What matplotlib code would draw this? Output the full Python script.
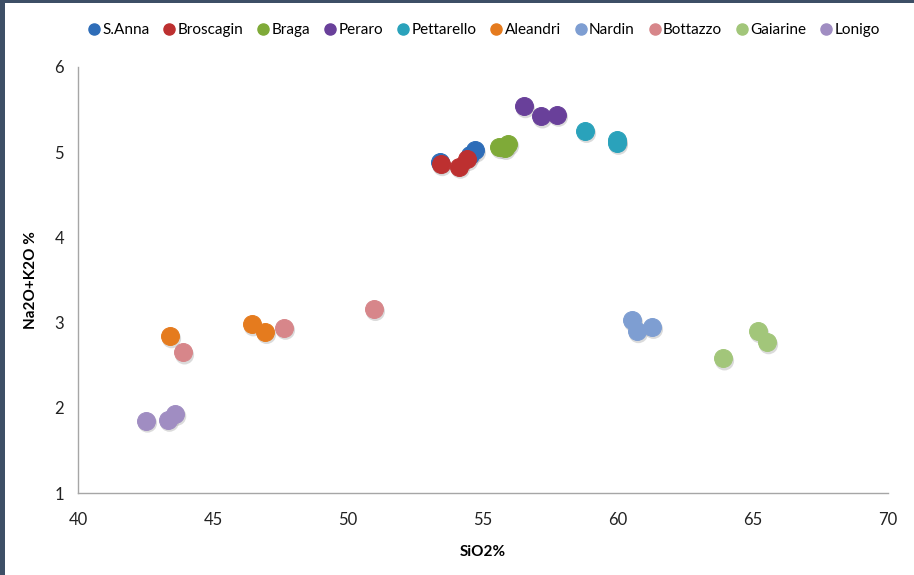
import matplotlib
matplotlib.use("Agg")
import matplotlib.pyplot as plt
import matplotlib.transforms as mtransforms
from matplotlib.patches import Rectangle
from matplotlib.lines import Line2D

plt.rcParams['font.family'] = ['Lato', 'DejaVu Sans']

series_names = ["S.Anna", "Broscagin", "Braga", "Peraro", "Pettarello",
                "Aleandri", "Nardin", "Bottazzo", "Gaiarine", "Lonigo"]
colors = ["#2e6db8", "#bd3030", "#7faa38", "#69409a", "#2aa2bb",
          "#e57b1e", "#7e9ed2", "#d7868a", "#a2c67a", "#a08dc2"]

sanna_x = [53.4, 54.5, 54.7]
sanna_y = [4.88, 4.97, 5.02]
broscagin_x = [53.44, 54.11, 54.41]
broscagin_y = [4.86, 4.83, 4.92]
braga_x = [55.6, 55.8, 55.93]
braga_y = [5.06, 5.05, 5.10]
peraro_x = [56.52, 57.15, 57.74]
peraro_y = [5.54, 5.42, 5.44]
pettarello_x = [58.78, 59.96, 59.96]
pettarello_y = [5.25, 5.14, 5.11]
aleandri_x = [43.41, 46.44, 46.93]
aleandri_y = [2.84, 2.98, 2.89]
nardin_x = [60.52, 60.7, 61.26]
nardin_y = [3.03, 2.90, 2.95]
bottazzo_x = [43.89, 47.63, 50.96]
bottazzo_y = [2.65, 2.94, 3.16]
gaiarine_x = [63.89, 65.19, 65.52]
gaiarine_y = [2.58, 2.90, 2.77]
lonigo_x = [42.52, 43.33, 43.6]
lonigo_y = [1.85, 1.86, 1.93]

xs = [sanna_x, broscagin_x, braga_x, peraro_x, pettarello_x,
      aleandri_x, nardin_x, bottazzo_x, gaiarine_x, lonigo_x]
ys = [sanna_y, broscagin_y, braga_y, peraro_y, pettarello_y,
      aleandri_y, nardin_y, bottazzo_y, gaiarine_y, lonigo_y]

x_ticks = [40, 45, 50, 55, 60, 65, 70]
y_ticks = [1, 2, 3, 4, 5, 6]

fig = plt.figure(figsize=(9.14, 5.75), dpi=100)
fig.patch.set_facecolor("white")
ax = fig.add_axes([78/914, 82/575, 810/914, 426/575])

# frame strips of the screenshot
fig.patches.append(Rectangle((0, 0), 5/914, 1, transform=fig.transFigure,
                             facecolor="#3d4f66", edgecolor="none", zorder=0))
fig.patches.append(Rectangle((0, 1 - 3/575), 1, 3/575, transform=fig.transFigure,
                             facecolor="#3d4f66", edgecolor="none", zorder=0))

shadow_tr = mtransforms.offset_copy(ax.transData, fig=fig, x=1.5, y=-2.5, units='dots')
for name, c, x, y in zip(series_names, colors, xs, ys):
    ax.scatter(x, y, s=190, color="#9a9a9a", alpha=0.35, edgecolors="none",
               transform=shadow_tr, zorder=2)
    ax.scatter(x, y, s=165, color=c, edgecolors=c, linewidths=0.8, zorder=3,
               label=name)

ax.set_xlim(40, 70)
ax.set_ylim(1, 6)
ax.set_xticks(x_ticks)
ax.set_yticks(y_ticks)
for s in ["top", "right"]:
    ax.spines[s].set_visible(False)
for s in ["left", "bottom"]:
    ax.spines[s].set_color("#a6a6a6")
    ax.spines[s].set_linewidth(1.0)
ax.tick_params(length=0, labelsize=12, colors="#222222", pad=10)
ax.tick_params(axis='x', pad=14)
ax.set_xlabel("SiO2%", fontsize=11, fontweight="bold", labelpad=12)
ax.set_ylabel("Na2O+K2O %", fontsize=11, fontweight="bold", labelpad=12)

handles = [Line2D([0], [0], marker='o', linestyle='none', markersize=8,
                  markerfacecolor=c, markeredgecolor=c) for c in colors]
fig.legend(handles, series_names, loc="center", bbox_to_anchor=(483/914, 1 - 30/575),
           ncol=10, frameon=False, fontsize=11, handletextpad=0.05,
           columnspacing=0.8, handlelength=1.0)

fig.savefig("out.png", dpi=100)
